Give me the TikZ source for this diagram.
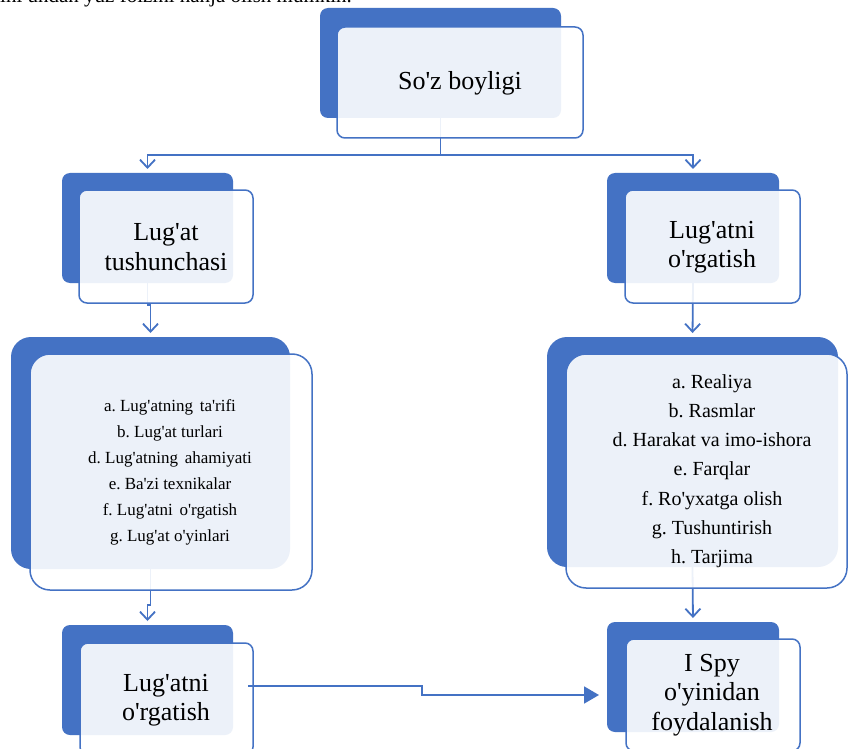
\documentclass[tikz,border=0pt]{standalone}
\usepackage{fontspec}
\setmainfont{Liberation Serif}[Ligatures=TeXOff]
\usetikzlibrary{arrows.meta,calc}
\definecolor{accent}{HTML}{4472C4}
\newcommand{\gapsp}{\hspace{0.15em}}
\frenchspacing

\begin{document}
\begin{tikzpicture}[x=1pt,y=1pt,
  backbox/.style={fill=accent, draw=none, rounded corners=#1, anchor=north west,
    inner sep=0pt, outer sep=0pt},
  backbox/.default=8pt,
  frontbox/.style={fill=white, fill opacity=0.9, text opacity=1, draw=accent,
    line width=1.5pt, rounded corners=#1, anchor=north west, inner sep=0pt, outer sep=0pt},
  frontbox/.default=8pt,
  title/.style={font=\fontsize{26}{29.5}\selectfont, align=center, text=black},
  listl/.style={font=\fontsize{17}{26}\selectfont, align=center, text=black},
  listr/.style={font=\fontsize{20}{29.2}\selectfont, align=center, text=black},
  conn/.style={draw=accent, line width=1.8pt},
  openarrow/.style={conn, -{Straight Barb[length=8pt,width=15pt]}, shorten >=4pt},
  filledarrow/.style={conn, -{Triangle[length=15pt,width=17pt]}}
]
\useasboundingbox (0,0) rectangle (849,-749);
\clip (0,0) rectangle (849,-749);
\fill[white] (0,0) rectangle (849,-749);

% running text of the page, cut at the top edge
\node[anchor=base west, inner sep=0pt, font=\fontsize{21}{24}\selectfont]
  (pagetext) at (0,-3) {ini undan yuz foizini hanja olish mumkin.};

% back (solid) boxes
\node[backbox, minimum width=241, minimum height=110] (topB) at (320,-8) {};
\node[backbox, minimum width=171, minimum height=110] (ltB) at (62,-173) {};
\node[backbox, minimum width=172, minimum height=110] (rtB) at (607,-173) {};
\node[backbox=20pt, minimum width=279, minimum height=232] (lbB) at (11,-337) {};
\node[backbox=20pt, minimum width=291, minimum height=230] (rbB) at (547,-337) {};
\node[backbox, minimum width=171, minimum height=110] (lbotB) at (62,-625) {};
\node[backbox, minimum width=172, minimum height=110] (rbotB) at (607,-622) {};

% connectors (drawn under the front boxes)
\coordinate (split) at ($(topB.south)+(0,-37)$);
\draw[conn] (topB.south) -- (split);
\draw[openarrow] (split) -| (ltB.north);
\draw[openarrow] (split) -| (rtB.north);
\draw[openarrow] (ltB.south) -- ++(0,-22) -| (lbB.north);
\draw[openarrow] (rtB.south) -- (rbB.north);
\draw[openarrow] (lbB.south) -- ++(0,-36) -| (lbotB.north);
\draw[openarrow] (rbB.south) -- (rbotB.north);

% front (light) boxes
\node[frontbox, minimum width=246, minimum height=111] (topF) at (337,-27) {};
\node[frontbox, minimum width=174, minimum height=113] (ltF) at (79,-190) {};
\node[frontbox, minimum width=175, minimum height=113] (rtF) at (625,-190) {};
\node[frontbox=20pt, minimum width=282, minimum height=236] (lbF) at (30,-354) {};
\node[frontbox=20pt, minimum width=281, minimum height=234] (rbF) at (566,-354) {};
\node[frontbox, minimum width=173, minimum height=112] (lbotF) at (80,-643) {};
\node[frontbox, minimum width=174, minimum height=112] (rbotF) at (626,-639) {};

% texts
\node[title] (topT) at (460,-83) {So'z boyligi};
\node[title] (ltT) at (166,-247) {Lug'at\\tushunchasi};
\node[title] (rtT) at (712,-247) {Lug'atni\\o'rgatish};
\node[listl] (lbT) at (170,-472) {a. Lug'atning\gapsp{} ta'rifi\\
  b. Lug'at turlari\\
  d. Lug'atning\gapsp{} ahamiyati\\
  e. Ba'zi texnikalar\\
  f. Lug'atni\gapsp{} o'rgatish\\
  g. Lug'at o'yinlari};
\node[listr] (rbT) at (712,-471) {a. Realiya\\
  b. Rasmlar\\
  d. Harakat va imo-ishora\\
  e. Farqlar\\
  f. Ro'yxatga olish\\
  g. Tushuntirish\\
  h. Tarjima};
\node[title] (lbotT) at (166,-700) {Lug'atni\\o'rgatish};
\node[title] (rbotT) at (712,-695) {I Spy\\o'yinidan\\foydalanish};

% link between the two bottom boxes
\coordinate (linkstart) at ($(lbotF.east)+(-5,13)$);
\draw[filledarrow] (linkstart) -- ++(174,0) |- ($(rbotB.west)+(-8,-18)$);
\end{tikzpicture}
\end{document}
